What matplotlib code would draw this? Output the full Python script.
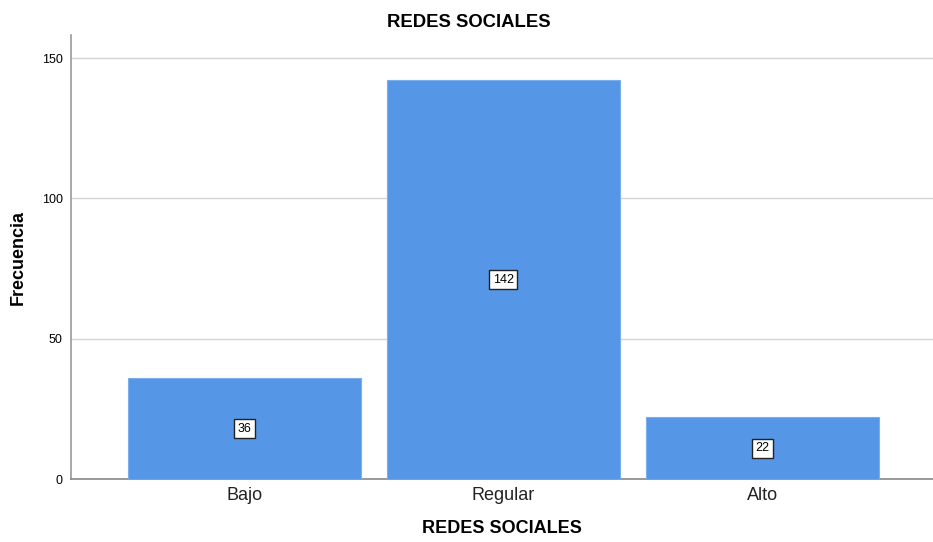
import matplotlib
matplotlib.use("Agg")
import matplotlib.pyplot as plt
import numpy as np

plt.rcParams['font.family'] = ['Liberation Sans', 'DejaVu Sans']

categorias = ["Bajo", "Regular", "Alto"]
frecuencias = [36, 142, 22]
titulo = "REDES SOCIALES"

fig = plt.figure(figsize=(9.33, 5.42), dpi=100)
ax = fig.add_axes([0.0761, 0.1162, 0.9239, 0.8192])

x = np.arange(len(categorias))
bars = ax.bar(x, frecuencias, width=0.9, color="#5596E6", edgecolor="#7AAEEC",
              linewidth=0.8, zorder=3)

for xi, v in zip(x, frecuencias):
    ax.text(xi, v / 2, str(v), ha="center", va="center", fontsize=9, zorder=4,
            bbox=dict(boxstyle="square,pad=0.28", fc="white", ec="#222222", lw=1.0))

ax.set_xlim(-0.67, 2.66)
ax.set_ylim(0, 158.2)
ax.set_yticks([0, 50, 100, 150])
ax.set_xticks(x)
ax.set_xticklabels(categorias, fontsize=13, color="#222222")
ax.tick_params(axis="y", labelsize=9, length=0, pad=6)
ax.tick_params(axis="x", length=0, pad=6)
ax.yaxis.grid(True, color="#d4d4d4", linewidth=1.0, zorder=0)

for s in ["top", "right"]:
    ax.spines[s].set_visible(False)
ax.spines["left"].set_color("#999999")
ax.spines["bottom"].set_color("#888888")
ax.spines["left"].set_linewidth(1.2)
ax.spines["bottom"].set_linewidth(1.2)

ax.set_xlabel(titulo, fontsize=13, fontweight="bold", labelpad=11)
ax.set_ylabel("Frecuencia", fontsize=13, fontweight="bold", labelpad=11)
fig.text(0.5028, 0.958, titulo, ha="center", va="center", fontsize=13.3, fontweight="bold")

fig.savefig("out.png", dpi=100)
